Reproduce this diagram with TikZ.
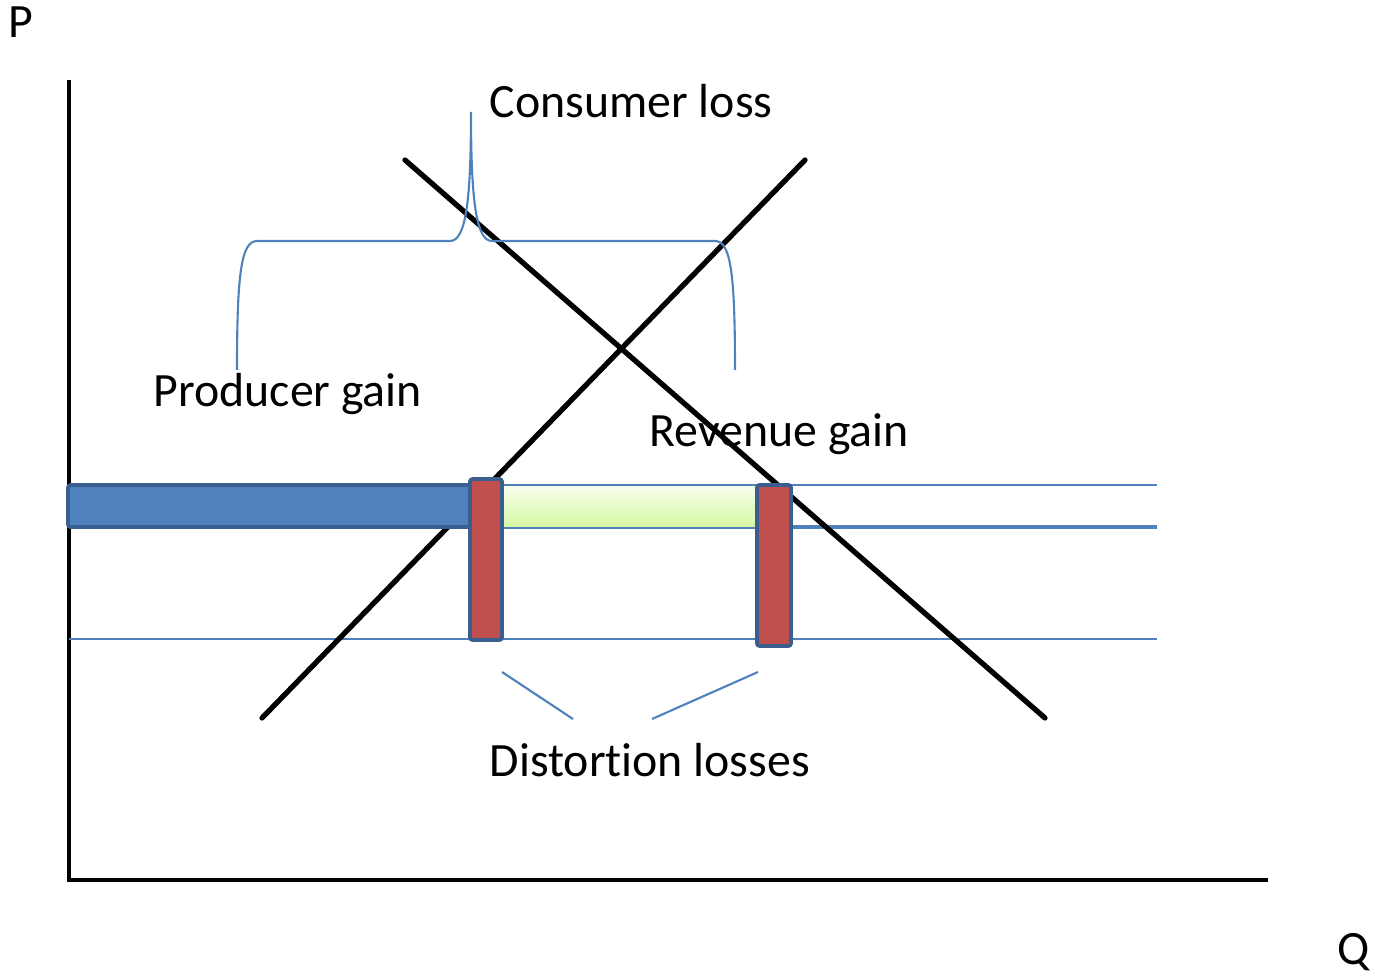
\documentclass[tikz,border=0pt]{standalone}
\usepackage{fontspec}
\setmainfont{Carlito}[Ligatures=NoCommon]
\usetikzlibrary{positioning}
\definecolor{barblue}{HTML}{4F81BD}
\definecolor{edgeblue}{HTML}{3A5F8E}
\definecolor{barred}{HTML}{C0504D}
\definecolor{paleGreen}{HTML}{F6FDEB}
\definecolor{limeGreen}{HTML}{D6F8A6}

\begin{document}
\begin{tikzpicture} [
    x=0.01cm, y=-0.01cm,
    every node/.style = {inner sep=0pt, font=\fontsize{13.6}{16}\selectfont},
    curve/.style = {line width=1.5pt, line cap=round},
    guide/.style = {barblue, line width=0.45pt},
    bar/.style = {draw=edgeblue, line width=1.1pt, rounded corners=0.8pt}]
    \useasboundingbox (0,0) rectangle (1375,976);
    % axes
    \coordinate (o) at (69,880);
    \coordinate (ytop) at (69,80);
    \coordinate (xend) at (1268,880);
    \draw [line width=1.25pt] (ytop) -- (o) -- (xend);
    \node (p) at (21,22) {P};
    \node (q) at (1354,952) {Q};

    % price lines
    \draw [guide] (500,485) -- (1157,485);
    \draw [guide, line width=1pt] (500,527) -- (1157,527);
    \draw [guide] (69,639) -- (1157,639);

    % demand and supply
    \coordinate (d1) at (405,160);
    \coordinate (d2) at (1045,718);
    \coordinate (s1) at (262,718);
    \coordinate (s2) at (805,160);
    \draw [curve] (d1) -- (d2);
    \draw [curve] (s1) -- (s2);

    % areas
    \shade [top color=paleGreen, bottom color=limeGreen] (500,486) rectangle (757,526);
    \draw [bar, fill=barblue] (68,485) rectangle (478,527);
    \draw [bar, fill=barred] (470,479) rectangle (502,640);
    \draw [bar, fill=barred] (757,485) rectangle (791,646);

    % brace
    \coordinate (bl) at (237,370);
    \coordinate (tip) at (471,112);
    \coordinate (br) at (735,370);
    \draw [guide, line width=0.6pt] (bl) .. controls (237,275) and (241,241) .. (257,241)
        -- (450,241) .. controls (466,241) and (471,200) .. (tip)
        .. controls (471,200) and (476,241) .. (492,241)
        -- (715,241) .. controls (731,241) and (735,275) .. (br);

    % labels
    \node (cl) [anchor=west] at (489,101) {Consumer loss};
    \node (pg) [anchor=west] at (153,394) {Producer gain};
    \node (rg) [anchor=west] at (649,434) {Revenue gain};
    \node (dl) [anchor=west] at (489,760) {Distort\kern0pt ion losses};

    \coordinate (dlA) at (502,672);
    \coordinate (dlB) at (758,672);
    \draw [guide, line width=0.6pt] (dlA) -- (573,719);
    \draw [guide, line width=0.6pt] (dlB) -- (652,719);
\end{tikzpicture}
\end{document}
